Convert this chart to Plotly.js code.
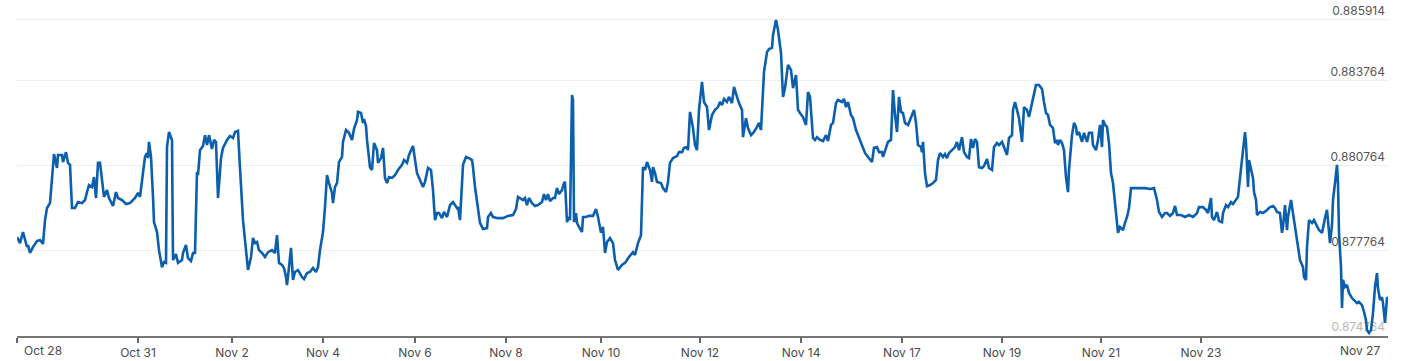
<!DOCTYPE html>
<html>
<head>
<meta charset="utf-8">
<script src="https://cdn.plot.ly/plotly-3.0.1.min.js"></script>
<style>html,body{margin:0;padding:0;background:#fff;}#chart{width:1417px;height:361px;}</style>
</head>
<body>
<div id="chart"></div>
<script>
// observation index (position along the trading timeline)
const obsIndex = [0,3,6,8,10,11,13,16,20,23,26,28,30,33,35,37,40,41,45,46,49,51,53,55,58,61,65,68,70,72,75,77,79,81,83,86,87,90,92,96,99,101,105,109,113,118,121,123,126,128,130,131,132,134,136,137,140,142,145,147,149,150,152,155,156,159,161,165,166,169,171,174,176,178,180,181,183,186,188,190,192,195,197,199,201,204,206,210,213,216,218,221,223,226,229,231,234,236,238,240,242,245,248,251,255,258,260,262,265,267,269,270,272,274,276,278,281,285,287,290,293,296,299,301,303,306,308,310,312,315,316,318,320,322,325,326,329,332,335,337,340,341,344,346,347,349,350,353,355,357,360,361,364,366,368,370,372,375,378,381,385,387,390,392,396,398,400,403,406,408,411,414,416,418,420,422,425,427,430,433,436,440,441,443,445,446,449,452,455,456,458,461,463,466,470,471,474,476,481,486,491,496,499,501,503,506,508,510,512,515,518,521,525,527,529,531,533,536,538,540,542,545,547,548,550,552,553,555,556,557,559,560,562,565,566,569,572,576,579,581,584,586,588,590,593,596,598,601,605,608,612,616,618,621,624,626,628,630,633,635,636,638,640,644,646,649,651,653,656,660,662,665,667,670,671,673,676,678,680,682,685,687,690,692,695,698,701,703,705,707,710,712,715,717,720,722,725,726,729,731,734,737,740,742,744,746,747,750,752,755,756,759,761,764,766,768,771,774,776,779,781,783,786,789,791,793,796,798,800,803,806,809,811,814,816,819,821,825,827,829,831,834,836,839,841,845,848,851,855,857,860,862,865,866,869,871,874,876,878,880,882,884,886,888,891,894,897,899,901,904,905,906,908,910,913,916,919,921,923,926,928,930,932,935,938,940,942,945,947,950,952,954,956,958,960,962,965,967,970,972,975,977,980,982,985,987,990,992,995,996,998,1000,1002,1005,1007,1010,1012,1015,1017,1019,1022,1025,1027,1029,1031,1033,1036,1038,1040,1041,1043,1045,1047,1049,1051,1052,1055,1057,1059,1060,1062,1065,1067,1070,1072,1075,1076,1079,1081,1083,1085,1086,1088,1090,1092,1094,1096,1097,1099,1101,1103,1106,1108,1110,1112,1114,1118,1123,1128,1133,1137,1140,1142,1145,1148,1150,1153,1156,1158,1160,1164,1168,1172,1176,1180,1182,1186,1189,1191,1194,1195,1197,1199,1200,1202,1205,1206,1209,1211,1214,1216,1219,1221,1223,1225,1226,1228,1229,1231,1232,1234,1236,1237,1239,1240,1243,1246,1248,1250,1253,1256,1258,1260,1263,1265,1266,1268,1270,1271,1274,1276,1277,1279,1281,1283,1286,1287,1289,1290,1292,1295,1297,1300,1302,1305,1306,1308,1310,1311,1313,1315,1316,1318,1320,1321,1322,1324,1325,1326,1328,1330,1332,1335,1337,1340,1342,1345,1347,1349,1350,1352,1354,1356,1358,1360,1361,1363,1365,1366,1368,1370,1371];

// exchange rate values
const rate = [
0.87822,0.87801,0.87840,0.87812,0.87787,0.87794,0.87766,0.87787,0.87808,0.87812,
0.87798,0.87882,0.87925,0.87942,0.88034,0.88115,0.88066,0.88112,0.88112,0.88087,
0.88122,0.88084,0.88077,0.87925,0.87925,0.87946,0.87942,0.87953,0.87981,0.88006,
0.87999,0.88034,0.87960,0.88084,0.88084,0.88006,0.87964,0.87988,0.87960,0.87932,
0.87981,0.87960,0.87953,0.87939,0.87942,0.87960,0.87978,0.87964,0.88052,0.88105,
0.88119,0.88101,0.88158,0.88105,0.87964,0.87875,0.87840,0.87776,0.87716,0.87734,
0.87731,0.88140,0.88193,0.88165,0.87741,0.87762,0.87731,0.87741,0.87766,0.87794,
0.87748,0.87738,0.87766,0.87766,0.88052,0.88041,0.88129,0.88144,0.88182,0.88147,
0.88182,0.88133,0.88165,0.88158,0.87960,0.88101,0.88137,0.88165,0.88179,0.88172,
0.88193,0.88197,0.88066,0.87882,0.87776,0.87706,0.87752,0.87819,0.87801,0.87805,
0.87776,0.87766,0.87752,0.87769,0.87776,0.87766,0.87829,0.87731,0.87724,0.87713,
0.87681,0.87653,0.87716,0.87784,0.87671,0.87699,0.87706,0.87681,0.87674,0.87695,
0.87699,0.87713,0.87699,0.87716,0.87776,0.87840,0.87928,0.88041,0.88013,0.87978,
0.87942,0.87999,0.88013,0.88087,0.88105,0.88158,0.88200,0.88190,0.88165,0.88204,
0.88235,0.88264,0.88260,0.88225,0.88239,0.88214,0.88165,0.88069,0.88059,0.88154,
0.88129,0.88084,0.88101,0.88137,0.88031,0.88013,0.88034,0.88031,0.88041,0.88059,
0.88077,0.88094,0.88084,0.88112,0.88144,0.88094,0.88048,0.88024,0.87999,0.88017,
0.88066,0.88059,0.87988,0.87882,0.87907,0.87907,0.87889,0.87911,0.87893,0.87935,
0.87946,0.87925,0.87928,0.87882,0.87999,0.88077,0.88105,0.88101,0.88094,0.88069,
0.87999,0.87928,0.87872,0.87851,0.87854,0.87893,0.87907,0.87893,0.87889,0.87889,
0.87897,0.87900,0.87921,0.87964,0.87960,0.87953,0.87960,0.87935,0.87960,0.87942,
0.87932,0.87935,0.87946,0.87974,0.87953,0.87974,0.87949,0.87960,0.87960,0.87995,
0.87974,0.87988,0.88013,0.88017,0.87875,0.87893,0.87882,0.88324,0.88306,0.87875,
0.87907,0.87872,0.87858,0.87840,0.87893,0.87893,0.87897,0.87897,0.87921,0.87893,
0.87837,0.87858,0.87766,0.87805,0.87819,0.87801,0.87741,0.87706,0.87724,0.87731,
0.87752,0.87769,0.87759,0.87801,0.87829,0.88069,0.88059,0.88087,0.88059,0.88017,
0.88069,0.88048,0.88017,0.88013,0.87995,0.87981,0.88017,0.88084,0.88101,0.88108,
0.88122,0.88122,0.88137,0.88140,0.88129,0.88264,0.88207,0.88147,0.88129,0.88271,
0.88370,0.88299,0.88281,0.88200,0.88253,0.88271,0.88281,0.88299,0.88288,0.88310,
0.88299,0.88317,0.88295,0.88352,0.88317,0.88295,0.88271,0.88175,0.88242,0.88207,
0.88182,0.88193,0.88211,0.88225,0.88200,0.88341,0.88405,0.88475,0.88486,0.88490,
0.88535,0.88588,0.88553,0.88472,0.88317,0.88348,0.88430,0.88412,0.88348,0.88394,
0.88271,0.88260,0.88246,0.88218,0.88334,0.88317,0.88172,0.88165,0.88175,0.88165,
0.88161,0.88182,0.88161,0.88218,0.88225,0.88295,0.88306,0.88299,0.88310,0.88281,
0.88299,0.88253,0.88242,0.88200,0.88182,0.88147,0.88119,0.88105,0.88087,0.88137,
0.88140,0.88122,0.88122,0.88105,0.88140,0.88158,0.88165,0.88341,0.88253,0.88193,
0.88317,0.88264,0.88260,0.88225,0.88218,0.88242,0.88271,0.88225,0.88147,0.88140,
0.88122,0.88158,0.88048,0.88002,0.88006,0.88013,0.88024,0.88094,0.88119,0.88105,
0.88115,0.88101,0.88119,0.88129,0.88140,0.88158,0.88129,0.88175,0.88122,0.88105,
0.88101,0.88168,0.88137,0.88168,0.88158,0.88069,0.88066,0.88073,0.88098,0.88066,
0.88059,0.88140,0.88154,0.88147,0.88158,0.88140,0.88112,0.88172,0.88182,0.88271,
0.88299,0.88271,0.88242,0.88158,0.88281,0.88271,0.88246,0.88295,0.88334,0.88359,
0.88359,0.88345,0.88299,0.88260,0.88253,0.88218,0.88207,0.88154,0.88165,0.88147,
0.88165,0.88154,0.88129,0.88034,0.87981,0.88059,0.88182,0.88225,0.88211,0.88182,
0.88193,0.88158,0.88190,0.88158,0.88190,0.88190,0.88147,0.88129,0.88165,0.88218,
0.88140,0.88235,0.88218,0.88211,0.88154,0.88048,0.88013,0.87978,0.87893,0.87837,
0.87858,0.87847,0.87872,0.87893,0.87925,0.87995,0.87995,0.87995,0.87995,0.87992,
0.87995,0.87953,0.87911,0.87893,0.87907,0.87907,0.87897,0.87907,0.87932,0.87900,
0.87900,0.87893,0.87900,0.87893,0.87907,0.87928,0.87928,0.87918,0.87907,0.87960,
0.87893,0.87882,0.87900,0.87911,0.87879,0.87875,0.87907,0.87935,0.87928,0.87946,
0.87939,0.87953,0.87964,0.88031,0.88094,0.88140,0.88193,0.88154,0.87999,0.88094,
0.88059,0.88031,0.87981,0.87953,0.87900,0.87911,0.87907,0.87911,0.87918,0.87928,
0.87932,0.87925,0.87911,0.87907,0.87837,0.87858,0.87935,0.87847,0.87893,0.87953,
0.87907,0.87882,0.87840,0.87801,0.87741,0.87716,0.87681,0.87671,0.87787,0.87882,
0.87872,0.87882,0.87861,0.87847,0.87837,0.87858,0.87889,0.87918,0.87872,0.87801,
0.87865,0.87953,0.88013,0.88077,0.88013,0.87837,0.87716,0.87572,0.87671,0.87646,
0.87653,0.87625,0.87607,0.87600,0.87589,0.87593,0.87582,0.87558,0.87529,0.87494,
0.87484,0.87494,0.87554,0.87646,0.87695,0.87642,0.87600,0.87610,0.87589,0.87519,
0.87607,0.87610];

// x-axis tick labels and their positions on the observation index
const xTickLabels = ["Oct 28","Oct 31","Nov 2","Nov 4","Nov 6","Nov 8","Nov 10","Nov 12","Nov 14","Nov 17","Nov 19","Nov 21","Nov 23","Nov 27"];
const xTickPos = [0,121,215,306,398,489,584,683,784,885,985,1084,1184,1370];

// y-axis tick values
const yTickVals = [0.874764,0.877764,0.880764,0.883764,0.885914];
const yTickLabels = ["0.874764","0.877764","0.880764","0.883764","0.885914"];

const textColor = "#4a4a4a";
const fontFam = "Inter, 'Open Sans', sans-serif";

const innerTickText = xTickLabels.map((t, i) => (i === 0 || i === xTickLabels.length - 1) ? "" : t);
const yTickText = yTickLabels.map((t, i) => i === 0 ? '<span style="color:#b8b8b8">' + t + '</span>' : t);

const trace = {
  x: obsIndex,
  y: rate,
  type: "scatter",
  mode: "lines",
  line: {color: "#0b5fad", width: 2.6, shape: "linear"},
  hoverinfo: "skip"
};

const layout = {
  width: 1417,
  height: 361,
  margin: {l: 17, r: 29, t: 0, b: 25},
  paper_bgcolor: "#ffffff",
  plot_bgcolor: "#ffffff",
  showlegend: false,
  font: {family: fontFam, size: 12, color: textColor},
  xaxis: {
    range: [0, 1371],
    tickmode: "array",
    tickvals: xTickPos,
    ticktext: innerTickText,
    ticks: "outside",
    ticklen: 5,
    tickwidth: 1.3,
    tickcolor: "#666",
    showline: true,
    linecolor: "#777",
    linewidth: 1.5,
    showgrid: false,
    zeroline: false,
    tickfont: {family: fontFam, size: 12, color: textColor},
    fixedrange: true
  },
  yaxis: {
    range: [0.87473, 0.88659],
    side: "right",
    tickmode: "array",
    tickvals: yTickVals,
    ticktext: yTickText,
    ticklabelposition: "inside top",
    ticks: "",
    showline: false,
    showgrid: true,
    gridcolor: "#efefef",
    gridwidth: 1,
    zeroline: false,
    layer: "below traces",
    tickfont: {family: fontFam, size: 12, color: "#555"},
    fixedrange: true
  },
  annotations: [
    {x: xTickPos[0], y: 0, xref: "x", yref: "paper", text: xTickLabels[0], showarrow: false,
     xanchor: "left", yanchor: "top", xshift: 5, yshift: -5, font: {family: fontFam, size: 12, color: textColor}},
    {x: xTickPos[xTickPos.length - 1], y: 0, xref: "x", yref: "paper", text: xTickLabels[xTickLabels.length - 1], showarrow: false,
     xanchor: "right", yanchor: "top", xshift: -5, yshift: -5, font: {family: fontFam, size: 12, color: textColor}}
  ]
};

Plotly.newPlot("chart", [trace], layout, {displayModeBar: false, staticPlot: true});
</script>
</body>
</html>
